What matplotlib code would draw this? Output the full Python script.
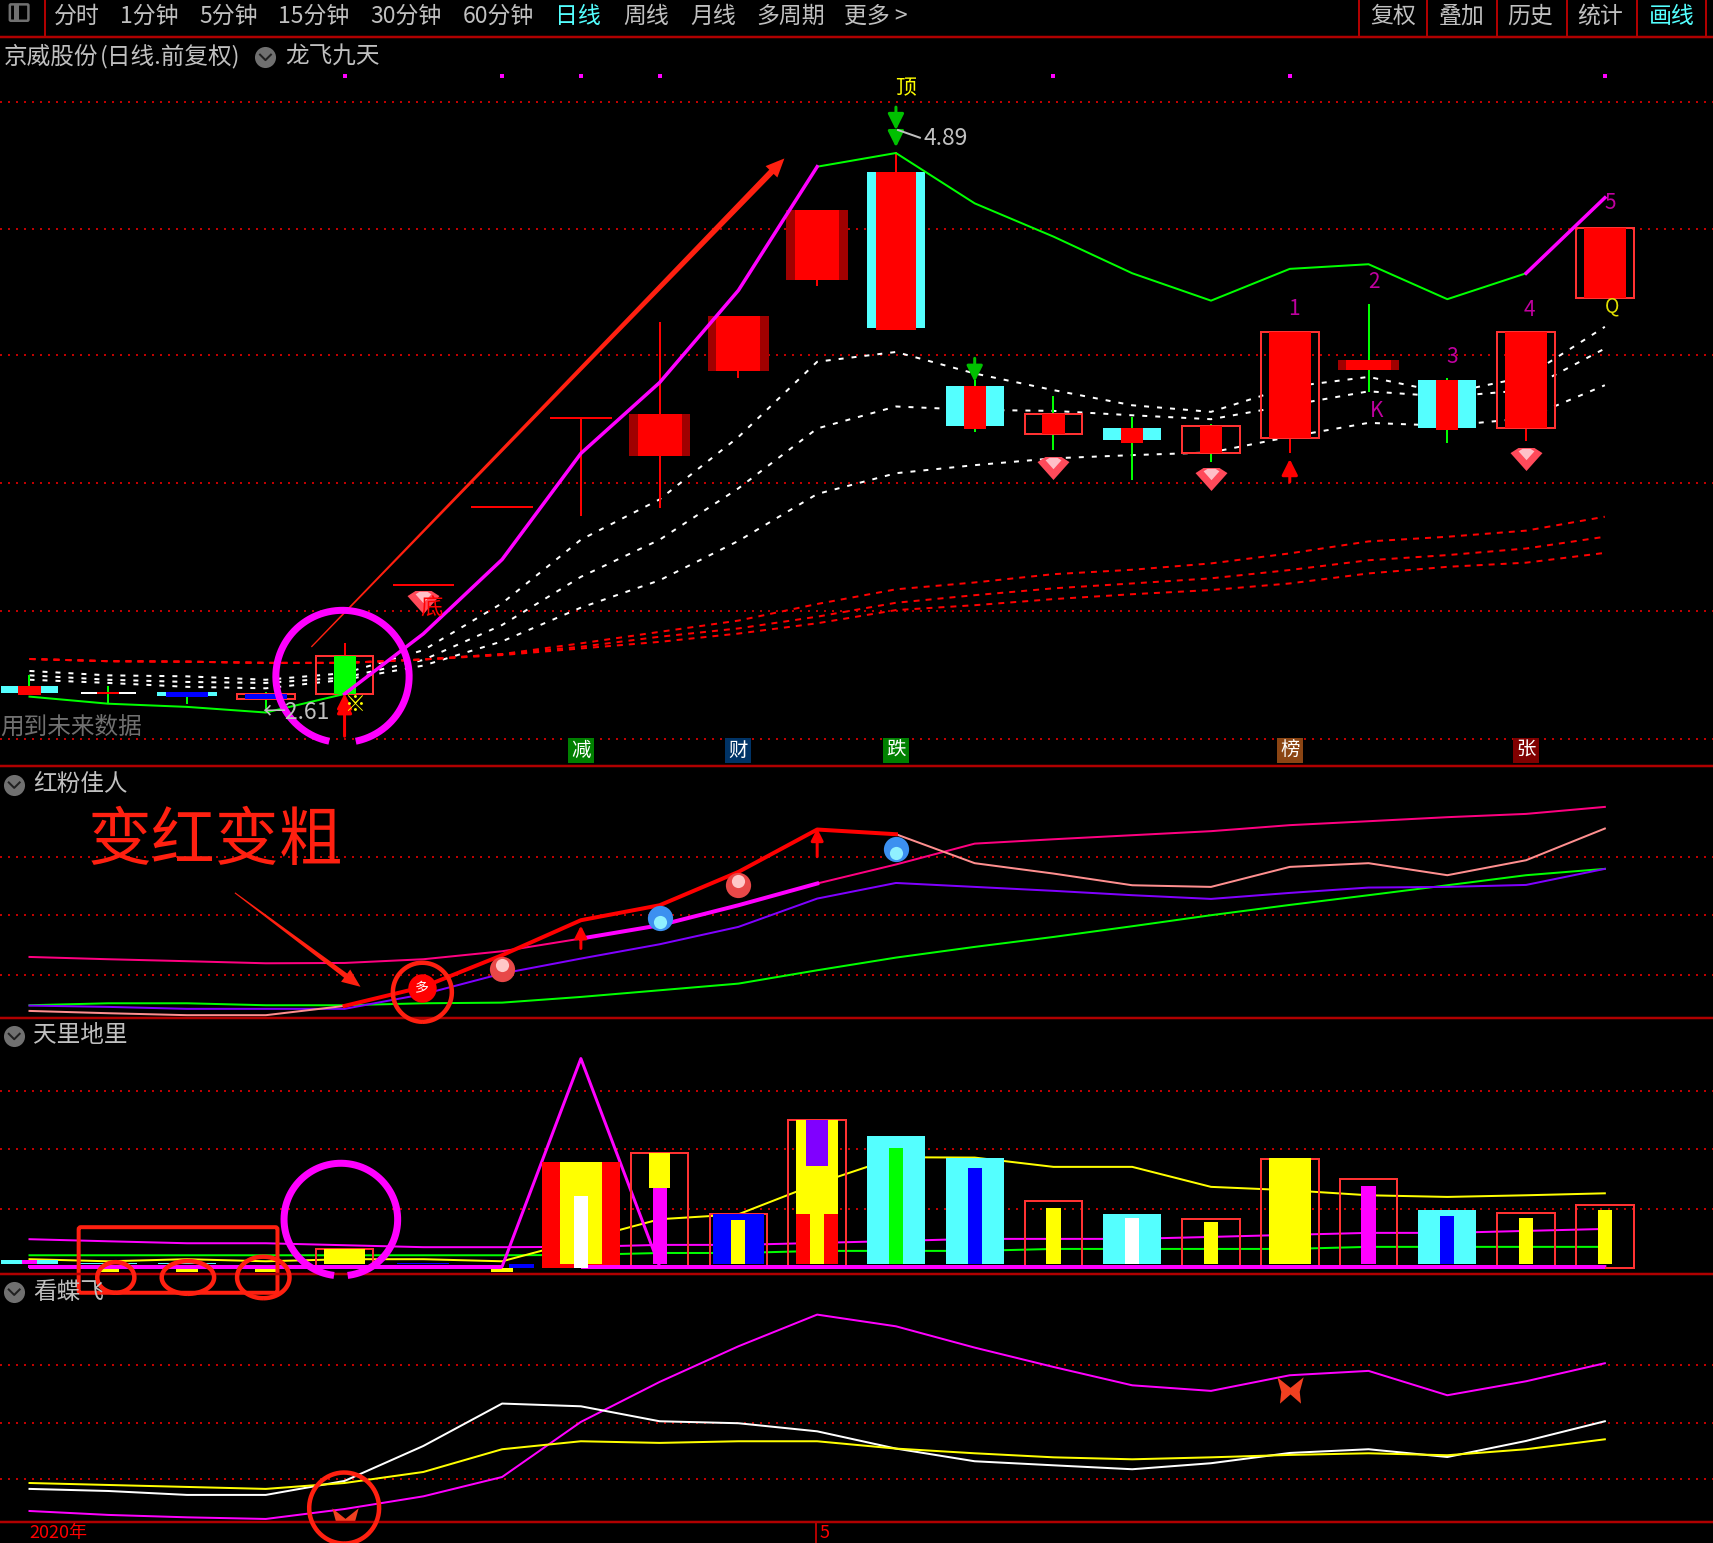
import numpy as np
import matplotlib
matplotlib.use("Agg")
import matplotlib.pyplot as plt
from matplotlib.patches import FancyBboxPatch, Polygon

plt.rcParams['font.family'] = ['Noto Sans CJK SC', 'DejaVu Sans']

# ── candles (price) ──────────────────────────
body_top = [2.705, 2.68, 2.682, 2.673, 2.827, 3.12, 3.438, 3.80, 3.818, 4.22, 4.654,
            4.807, 3.934, 3.818, 3.76, 3.768, 4.153, 4.039, 3.956, 4.153, 4.578]
body_bot = [2.678, 2.673, 2.66, 2.651, 2.673, 3.12, 3.438, 3.80, 3.648, 3.996, 4.367,
            4.17, 3.768, 3.737, 3.71, 3.657, 3.721, 3.998, 3.762, 3.762, 4.294]
high = [2.749, 2.705, 2.682, 2.682, 2.883, 3.12, 3.438, 3.80, 4.193, 4.22, 4.654,
        4.89, 3.956, 3.891, 3.804, 3.777, 4.153, 4.269, 3.966, 4.153, 4.578]
low = [2.678, 2.633, 2.633, 2.61, 2.673, 3.12, 3.438, 3.40, 3.433, 3.965, 4.34,
       4.17, 3.746, 3.67, 3.549, 3.623, 3.657, 3.907, 3.698, 3.706, 4.294]
wick_col = ['g', 'g', 'g', 'g', 'r', 'r', 'r', 'r', 'r', 'r', 'r',
            'r', 'g', 'g', 'g', 'g', 'r', 'g', 'g', 'r', 'r']
candle_kind = ['cyan', 'white', 'cyanblue', 'boxblue', 'boxgreen', 'line', 'line', 'line',
               'solid', 'solid', 'solid', 'cyanwide', 'cyan', 'box', 'cyan', 'box',
               'boxwide', 'solid', 'cyan', 'boxwide', 'boxwide']

# ── main panel lines ─────────────────────────
upper = [2.662, 2.633, 2.62, 2.597, 2.673, 2.919, 3.223, 3.657, 3.947, 4.324, 4.83,
         4.886, 4.68, 4.544, 4.394, 4.282, 4.412, 4.431, 4.288, 4.394, 4.703]
white_a = [2.767, 2.749, 2.745, 2.731, 2.758, 2.852, 3.044, 3.304, 3.469, 3.724, 4.032,
           4.072, 3.984, 3.916, 3.854, 3.827, 3.929, 3.97, 3.903, 3.97, 4.175]
white_b = [2.749, 2.731, 2.722, 2.718, 2.74, 2.812, 2.955, 3.152, 3.304, 3.514, 3.759,
           3.849, 3.835, 3.831, 3.813, 3.797, 3.854, 3.911, 3.889, 3.916, 4.086]
white_c = [2.731, 2.718, 2.702, 2.696, 2.731, 2.789, 2.888, 3.026, 3.138, 3.299, 3.491,
           3.576, 3.609, 3.637, 3.65, 3.661, 3.725, 3.782, 3.77, 3.801, 3.936]
red_a = [2.816, 2.807, 2.805, 2.80, 2.80, 2.814, 2.836, 2.88, 2.927, 2.973, 3.041,
         3.101, 3.129, 3.163, 3.181, 3.207, 3.248, 3.297, 3.316, 3.341, 3.398]
red_b = [2.816, 2.807, 2.805, 2.80, 2.80, 2.814, 2.836, 2.866, 2.907, 2.941, 2.989,
         3.046, 3.077, 3.105, 3.125, 3.146, 3.18, 3.22, 3.241, 3.268, 3.316]
red_c = [2.816, 2.807, 2.805, 2.80, 2.80, 2.814, 2.832, 2.859, 2.886, 2.92, 2.962,
         3.016, 3.036, 3.061, 3.081, 3.098, 3.125, 3.166, 3.193, 3.21, 3.25]
main_grid = [2.49, 3.013, 3.536, 4.059, 4.577, 5.096]
dot_idx = [4, 6, 7, 8, 13, 16, 20]
dot_price = 5.203
gem_idx = [5, 13, 15, 19]
gem_price = [3.049, 3.599, 3.554, 3.634]
tag_idx = [7, 9, 11, 16, 19]
tag_text = ['减', '财', '跌', '榜', '张']
tag_col = ['#008000', '#003366', '#008000', '#8b4513', '#800000']

# ── 红粉佳人 ─────────────────────────────────
pink = [56.3, 54.2, 52.4, 50.5, 50.8, 54.2, 61.5, 73.1, 85.3, 103.6, 123.5,
        140.9, 160, 164, 167.7, 171.4, 176.9, 180.5, 184.2, 187.2, 193.6]
salmon = [6.9, 4.8, 3, 3, 11.5, 28.9, 57.9, 89.9, 103.6, 134.1, 172.9,
          168.6, 142.1, 132.6, 121.9, 120.4, 138.7, 142.1, 131.1, 144.8, 173.8]
purple = [11.8, 10.6, 8.8, 8.8, 8.8, 22.2, 41.1, 54.8, 67.9, 83.8, 109.7,
          124, 120.4, 116.8, 112.8, 109.4, 114.9, 119.8, 120.4, 122.2, 136.9]
green2 = [12.1, 13.9, 13.9, 12.1, 12.1, 13.9, 14.5, 19.7, 25.8, 31.9, 44.1,
          55.7, 65.5, 74.6, 84.4, 94.5, 103.9, 112.8, 121.9, 131.1, 136.9]
grid2 = [39.6, 94.5, 147.6]
ball_red_idx = [6, 9]
ball_red_val = [45, 122]
ball_blue_idx = [8, 11]
ball_blue_val = [92, 155]

# ── 天里地里 ─────────────────────────────────
spike = [7, 7, 7, 7, 7, 7, 7, 197.3, 7, 7, 7, 7, 7, 7, 7, 7, 7, 7, 7, 7, 7]
yellow3 = [13.7, 11.8, 13.7, 11.8, 13.7, 13.7, 11.8, 31, 50.3, 54.8, 82.9,
           107, 106.7, 98.2, 98.2, 79.9, 76.8, 72.2, 70.7, 72.2, 74]
magenta3 = [32, 30.1, 28.3, 28.3, 26.5, 24.7, 24.7, 25, 26.8, 26.8, 28.6,
            30.4, 32.3, 32.3, 32.3, 34.1, 36, 37.8, 37.8, 39.6, 41.4]
green3 = [17.3, 17.3, 17.3, 17.3, 17.3, 17.3, 17.3, 17.6, 19.4, 19.4, 21.3,
          21.3, 21.3, 23.1, 23.1, 23.1, 23.1, 25, 25, 25, 25]
grid3 = [59.7, 114.6, 167.4]
box_idx = [4, 8, 9, 10, 13, 15, 16, 17, 19, 20]
box_top = [23.4, 111.3, 54.8, 140.9, 67.1, 50.6, 105.5, 87.2, 56, 63.4]
cyan_idx = [0, 1, 2, 11, 12, 14, 18]
cyan_top = [12.8, 10.3, 10.3, 126.2, 106.1, 54.9, 58.5]
thin_idx = [0, 8, 9, 11, 12, 13, 14, 15, 17, 18, 19, 20]
thin_top = [12.8, 78.6, 49.3, 115.2, 96.9, 60.3, 51.2, 47.5, 80.5, 53, 51.2, 58.5]
thin_col = ['#ff00ff', '#ff00ff', '#ffff00', '#00ff00', '#0000ff', '#ffff00', '#ffffff',
            '#ffff00', '#ff00ff', '#0000ff', '#ffff00', '#ffff00']
under_idx = [1, 2, 3, 6]
under_val = [1.8, 1.8, 1.8, 1.8]

# ── 看蝶飞 ───────────────────────────────────
magenta4 = [10.3, 6.7, 4.5, 3, 12.1, 23.7, 41.4, 91.8, 128.4, 161, 190,
            179.3, 159.8, 142.1, 125.3, 120.2, 134.5, 138.5, 116.2, 129, 145.5]
white4 = [30.5, 28.6, 25, 25, 37.8, 69.8, 108.6, 106.1, 92.4, 90.6, 83.2,
          67.4, 55.8, 52.1, 48.5, 54, 63.4, 66.8, 59.7, 74.4, 92.4]
yellow4 = [35.9, 34.1, 32.3, 30.5, 35.9, 46, 66.8, 74.1, 72.6, 74.1, 74.1,
           67.4, 63.1, 59.4, 57.6, 59.4, 61.6, 63.1, 61.3, 66.8, 75.9]
grid4 = [39.3, 90.6, 143.6]
fly_idx = [4, 16]
fly_val = [1, 121]

menu_left = ['分时', '1分钟', '5分钟', '15分钟', '30分钟', '60分钟', '日线', '周线', '月线', '多周期', '更多 >']
menu_left_x = [70, 137, 209, 287, 372, 456, 529, 591, 653, 724, 802]
menu_right = ['复权', '叠加', '历史', '统计', '画线']
menu_right_x = [1275, 1338, 1401, 1465, 1530]

W, H = 1568.0, 1412.0
CYAN = '#54ffff'
RED = '#ff0000'
BOX = '#ff3232'
GRID = '#c00000'
LINE = '#b00000'
TEXT = '#c0c0c0'
PX = 0.72  # one reference pixel in points
x = np.arange(21)

fig = plt.figure(figsize=(17.13, 15.43), dpi=100, facecolor='black')


def panel(top, bot, ylim):
    ax = fig.add_axes([0, 1 - bot / H, 1, (bot - top) / H])
    ax.set_xlim(-27 / 72.1, (W - 27) / 72.1)
    ax.set_ylim(*ylim)
    ax.axis('off')
    return ax


def hgrid(ax, values):
    for v in values:
        ax.axhline(v, color=GRID, lw=2 * PX, linestyle=(0, (1, 3)), zorder=1)


def column(ax, i, lo, hi, width, color, z=4):
    ax.bar(i, hi - lo, width=width, bottom=lo, color=color, linewidth=0, zorder=z)


def outline(ax, i, lo, hi, width=0.73, z=3):
    ax.bar(i, hi - lo, width=width, bottom=lo, fill=False, edgecolor=BOX, linewidth=2 * PX, zorder=z)


def arrow(ax, i, start, end, color, scale=22):
    ax.annotate('', xy=(i, end), xytext=(i, start), zorder=7,
                arrowprops=dict(arrowstyle='-|>', color=color, lw=3 * PX, shrinkA=0, shrinkB=0,
                                mutation_scale=scale))


# ── main ──────────────────────────────────────
ax = panel(34, 701, (2.378, 5.36))
hgrid(ax, main_grid)
ax.plot(x, white_a, color='white', lw=2 * PX, linestyle=(0, (2.5, 4)), zorder=2)
ax.plot(x, white_b, color='white', lw=2 * PX, linestyle=(0, (2.5, 4)), zorder=2)
ax.plot(x, white_c, color='white', lw=2 * PX, linestyle=(0, (2.5, 4)), zorder=2)
ax.plot(x, red_a, color=RED, lw=2 * PX, linestyle=(0, (3, 3)), zorder=2)
ax.plot(x, red_b, color=RED, lw=2 * PX, linestyle=(0, (3, 3)), zorder=2)
ax.plot(x, red_c, color=RED, lw=2 * PX, linestyle=(0, (3, 3)), zorder=2)

for i in range(21):
    col = RED if wick_col[i] == 'r' else '#00ff00'
    ax.vlines(i, low[i], high[i], color=col, lw=2 * PX, zorder=3)
    lo, hi = body_bot[i], body_top[i]
    kind = candle_kind[i]
    if kind == 'line':
        ax.hlines(hi, i - 0.39, i + 0.39, color=RED, lw=2 * PX, zorder=4)
    elif kind == 'solid':
        column(ax, i, lo, hi, 0.78, '#a00000')
        column(ax, i, lo, hi, 0.56, RED)
    elif kind in ('cyan', 'cyanwide'):
        column(ax, i, lo, hi, 0.735, CYAN)
        column(ax, i, lo - 0.01, hi, 0.51 if kind == 'cyanwide' else 0.28, RED)
    elif kind == 'cyanblue':
        column(ax, i, lo + 0.005, hi, 0.75, CYAN)
        column(ax, i, lo, hi, 0.53, '#0000ff')
    elif kind == 'white':
        column(ax, i, lo, hi, 0.7, 'white')
        column(ax, i, lo, hi, 0.28, RED)
    elif kind in ('box', 'boxwide'):
        outline(ax, i, lo, hi)
        column(ax, i, lo, hi, 0.54 if kind == 'boxwide' else 0.28, RED)
    elif kind == 'boxblue':
        outline(ax, i, lo, hi)
        column(ax, i, lo, hi, 0.54, '#0000ff')
    elif kind == 'boxgreen':
        outline(ax, i, lo, hi)
        column(ax, i, lo, hi, 0.28, '#00ff00')

ax.plot(x[:5], upper[:5], color='#00ff00', lw=2 * PX, zorder=5)
ax.plot(x[10:20], upper[10:20], color='#00ff00', lw=2 * PX, zorder=5)
ax.plot(x[4:11], upper[4:11], color='#ff00ff', lw=3.5 * PX, zorder=5)
ax.plot(x[19:21], upper[19:21], color='#ff00ff', lw=3.5 * PX, zorder=5)

ax.scatter(dot_idx, [dot_price] * len(dot_idx), marker='s', s=11, color='#ff00ff', linewidths=0, zorder=5)

gem = [(-1, 0.4), (-0.5, 0.72), (0.5, 0.72), (1, 0.4), (0, -0.72)]
ax.scatter(gem_idx, gem_price, marker=gem, s=530, color='#ff4a5a', linewidths=0, zorder=6)
ax.scatter(gem_idx, [p + 0.02 for p in gem_price], marker=gem, s=130, color='#ffc0c8', linewidths=0, zorder=6)

arrow(ax, 4, 2.50, 2.655, RED)
arrow(ax, 4, 2.62, 2.675, RED)
arrow(ax, 16, 3.54, 3.634, RED, 24)
arrow(ax, 11, 5.074, 4.98, '#00c000', 24)
arrow(ax, 11, 4.98, 4.91, '#00c000', 24)
arrow(ax, 12, 4.046, 3.95, '#00c000', 24)

for i, t, c in zip(tag_idx, tag_text, tag_col):
    ax.bar(i, 0.104, width=0.33, bottom=2.39, color=c, linewidth=0, zorder=5)
    ax.text(i, 2.442, t, color='white', fontsize=14, ha='center', va='center', zorder=6)

# ── 红粉佳人 ─────────────────────────────────
ax2 = panel(701, 932, (0, 231))
hgrid(ax2, grid2)
ax2.plot(x, green2, color='#00ff00', lw=2 * PX, zorder=3)
ax2.plot(x, purple, color='#8000ff', lw=2 * PX, zorder=3)
ax2.plot(x[:8], pink[:8], color='#ff0080', lw=2 * PX, zorder=3)
ax2.plot(x[10:], pink[10:], color='#ff0080', lw=2 * PX, zorder=3)
ax2.plot(x[7:11], pink[7:11], color='#ff00ff', lw=4 * PX, zorder=4)
ax2.plot(x[:5], salmon[:5], color='#ff8f8f', lw=2 * PX, zorder=3)
ax2.plot(x[11:], salmon[11:], color='#ff8f8f', lw=2 * PX, zorder=3)
ax2.plot(x[4:12], salmon[4:12], color=RED, lw=4 * PX, zorder=4)
ax2.scatter(ball_red_idx, ball_red_val, s=330, color='#e84848', linewidths=0, zorder=6)
ax2.scatter(ball_red_idx, [v + 4 for v in ball_red_val], s=90, color='#ffc8c8', linewidths=0, zorder=6)
ax2.scatter(ball_blue_idx, ball_blue_val, s=330, color='#3c90f0', linewidths=0, zorder=6)
ax2.scatter(ball_blue_idx, [v - 4 for v in ball_blue_val], s=90, color='#90f0ff', linewidths=0, zorder=6)
arrow(ax2, 7, 64, 85, RED, 18)
arrow(ax2, 10, 148, 174, RED, 18)

# ── 天里地里 ─────────────────────────────────
ax3 = panel(932, 1166, (0, 234))
hgrid(ax3, grid3)
ax3.plot(x, green3, color='#00ff00', lw=2 * PX, zorder=2)
ax3.plot(x, magenta3, color='#ff00ff', lw=2 * PX, zorder=2)
ax3.plot(x, yellow3, color='#ffff00', lw=2 * PX, zorder=2)
ax3.plot(x, spike, color='#ff00ff', lw=3 * PX, zorder=2)

BASE = 9.1
for i, t in zip(box_idx, box_top):
    outline(ax3, i, 5.4, t)
for i, t in zip(cyan_idx, cyan_top):
    column(ax3, i, BASE, t, 0.735, CYAN)
column(ax3, 4, BASE, 23.4, 0.53, '#ffff00')
column(ax3, 5, BASE, 10.3, 0.66, '#0000ff')
column(ax3, 7, 5.4, 102.4, 0.99, RED)
column(ax3, 7, BASE, 102.4, 0.53, '#ffff00')
column(ax3, 7, 5.4, 71.3, 0.18, 'white', 5)
column(ax3, 8, 78.6, 111.3, 0.275, '#ffff00')
column(ax3, 9, BASE, 54.8, 0.64, '#0000ff')
column(ax3, 10, BASE, 140.9, 0.53, '#ffff00')
column(ax3, 10, BASE, 54.8, 0.53, RED, 5)
column(ax3, 10, BASE, 54.8, 0.18, '#ffff00', 6)
column(ax3, 10, 98.8, 140.9, 0.275, '#8000ff', 5)
column(ax3, 16, BASE, 106.1, 0.54, '#ffff00')
for i, t, c in zip(thin_idx, thin_top, thin_col):
    column(ax3, i, BASE, t, 0.18, c, 5)
for i, v in zip(under_idx, under_val):
    column(ax3, i, v, 5.4, 0.27, '#ffff00')
column(ax3, 6.25, 5.4, BASE, 0.32, '#0000ff')
ax3.plot(x[:7], [7] * 7, color='#ff00ff', lw=4 * PX, solid_capstyle='butt', zorder=4)
ax3.plot(x[7:], [7] * 14, color='#ff00ff', lw=4 * PX, solid_capstyle='butt', zorder=4)

# ── 看蝶飞 ───────────────────────────────────
ax4 = panel(1166, 1393, (0, 227))
hgrid(ax4, grid4)
ax4.plot(x, magenta4, color='#ff00ff', lw=2 * PX, zorder=3)
ax4.plot(x, white4, color='white', lw=2 * PX, zorder=3)
ax4.plot(x, yellow4, color='#ffff00', lw=2 * PX, zorder=3)
fly = [(-1, 1), (0, 0.2), (1, 1), (0.7, -0.1), (0.8, -1), (0, -0.3), (-0.8, -1), (-0.7, -0.1)]
ax4.scatter(fly_idx, fly_val, marker=fly, s=360, color='#f04020', linewidths=0, zorder=5)

# ── overlay: frame, text and the hand drawn marks, in reference pixels ───
ov = fig.add_axes([0, 0, 1, 1], zorder=10)
ov.set_xlim(0, W)
ov.set_ylim(H, 0)
ov.axis('off')
ov.patch.set_alpha(0)

for y in [33.5, 701, 932, 1166, 1393]:
    ov.plot([0, W], [y, y], color=LINE, lw=2.5 * PX)
for sx in [41, 1244, 1306, 1370, 1434, 1498, 1562]:
    ov.plot([sx, sx], [0, 33.5], color=LINE, lw=2 * PX)
ov.plot([747, 747], [1393, H], color=LINE, lw=2 * PX)


def label(px, py, s, color=TEXT, size=17, ha='center', **kw):
    ov.text(px, py, s, color=color, fontsize=size, ha=ha, va='center', **kw)


def badge(px, py):
    ov.scatter([px], [py], s=230, color='#707070', linewidths=0)
    ov.plot([px - 5, px, px + 5], [py - 2, py + 3, py - 2], color='#202020', lw=2 * PX)


ov.add_patch(FancyBboxPatch((10, 5), 15, 13, boxstyle='round,pad=1', fill=False, edgecolor='#707070', lw=2.5 * PX))
ov.plot([15, 15], [6, 17], color='#707070', lw=5 * PX)
for s, px in zip(menu_left, menu_left_x):
    label(px, 15, s, CYAN if s == '日线' else TEXT, 16.5)
for s, px in zip(menu_right, menu_right_x):
    label(px, 15, s, CYAN if s == '画线' else TEXT, 16.5)

label(3, 52, '京威股份', ha='left')
label(91, 52, '(日线.前复权)', ha='left')
badge(243, 52)
label(261, 52, '龙飞九天', ha='left')
label(0, 665, '用到未来数据', '#707070', ha='left')
badge(13, 718)
label(30, 718, '红粉佳人', ha='left')
badge(13, 948)
label(30, 948, '天里地里', ha='left')
badge(13, 1182)
label(30, 1183, '看蝶飞', ha='left')

label(829, 81, '顶', '#ffff00', 15)
label(395, 557, '底', RED, 16)
label(325, 645, '※', '#ffff00', 15)
label(240, 652, '←2.61', TEXT, 16.5, ha='left')
label(845, 127, '4.89', TEXT, 16.5, ha='left')
ov.plot([822, 842], [119, 126], color=TEXT, lw=2 * PX)
for s, px, py in [('1', 1184, 283), ('2', 1258, 258), ('3', 1329, 327), ('4', 1400, 284),
                  ('5', 1474, 186), ('K', 1260, 376)]:
    label(px, py, s, '#c000a0', 15)
label(1476, 280, 'Q', '#e0e000', 14)
label(27, 1403, '2020年', RED, 13, ha='left')
label(750, 1403, '5', RED, 13, ha='left')

ANN = '#ff2010'


def ring(cx, cy, rx, ry, color, lw, gap=0.0):
    t = np.linspace(np.pi / 2 + gap, 2.5 * np.pi - gap, 200)
    ov.plot(cx + rx * np.cos(t), cy + ry * np.sin(t), color=color, lw=lw * PX, solid_capstyle='butt')


def taper(x0, y0, x1, y1, tail, neck, head, head_len):
    d = np.array([x1 - x0, y1 - y0], dtype=float)
    d /= np.hypot(*d)
    n = np.array([-d[1], d[0]])
    a, b = np.array([x0, y0]), np.array([x1, y1])
    c = b - d * head_len
    pts = [a + n * tail, c + n * neck, c + n * head, b, c - n * head, c - n * neck, a - n * tail]
    ov.add_patch(Polygon(pts, closed=True, color=ANN, linewidth=0))


ring(313.5, 619, 61, 60.5, '#ff00ff', 7, 0.2)
ring(312, 1116, 52, 51.5, '#ff00ff', 7, 0.12)
taper(285, 592, 718, 145, 0.6, 2.8, 7.5, 17)
taper(215, 817, 330, 903, 0.5, 2.4, 7, 17)

label(197, 770, '变红变粗', ANN, 46)
ring(386.6, 908, 27, 27, ANN, 4.5)
ov.scatter([386], [904], s=420, color=RED, linewidths=0)
label(386, 904, '多', 'white', 10)
ring(315, 1380, 32, 32.5, ANN, 4.5)

ov.add_patch(FancyBboxPatch((74, 1125), 178, 56, boxstyle='round,pad=2', fill=False, edgecolor=ANN, lw=4 * PX))
ring(106, 1169, 17, 14, ANN, 4.5)
ring(172, 1169, 24, 15, ANN, 4.5)
ring(241, 1169, 24, 19, ANN, 4.5)

fig.savefig('out.png', dpi=100, facecolor='black')
